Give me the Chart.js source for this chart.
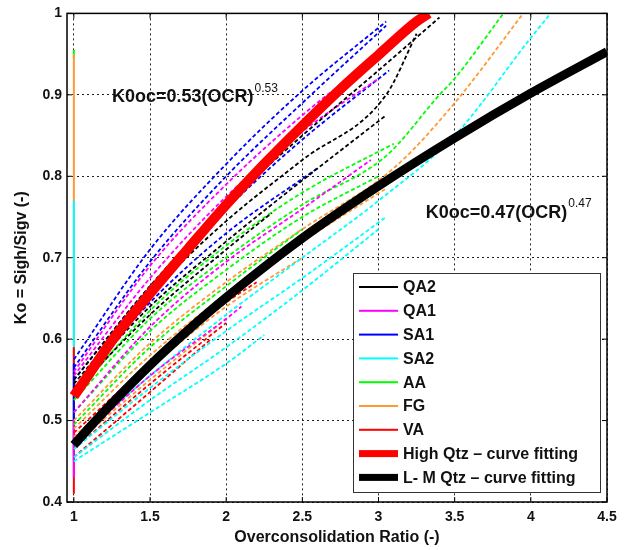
<!DOCTYPE html>
<html>
<head>
<meta charset="utf-8">
<script src="https://cdn.jsdelivr.net/npm/chart.js@4"></script>
<style>
  html, body { margin: 0; padding: 0; background: #fff; }
</style>
</head>
<body>
<canvas id="grafico" width="628" height="550"></canvas>
<script>
// tick labels
const xTicks = [1, 1.5, 2, 2.5, 3, 3.5, 4, 4.5];
const yTicks = [0.4, 0.5, 0.6, 0.7, 0.8, 0.9, 1];

// test curves, each one a list of [OCR, Ko]
const QA2 = [
  [[1, 0.55], [1.5, 0.665], [2, 0.765], [2.5, 0.85], [3, 0.93], [3.4, 0.995]],
  [[1, 0.545], [1.5, 0.655], [2, 0.745], [2.5, 0.82], [3.05, 0.9], [3.25, 0.975]],
  [[1, 0.54], [1.5, 0.64], [2, 0.72], [2.5, 0.795], [3.05, 0.875]],
  [[1, 0.535], [1.5, 0.63], [2, 0.71], [2.3, 0.755]]
];
const QA1 = [
  [[1, 0.56], [1.5, 0.69], [2, 0.79], [2.5, 0.875], [3, 0.95], [3.25, 0.995]],
  [[1, 0.555], [1.5, 0.675], [2, 0.775], [2.5, 0.855], [3, 0.92]],
  [[1, 0.51], [1.5, 0.615], [2, 0.695], [2.5, 0.76], [2.95, 0.82]],
  [[1, 0.47], [1.5, 0.555], [2, 0.625], [2.1, 0.64]]
];
const SA1 = [
  [[1, 0.575], [1.5, 0.71], [2, 0.815], [2.5, 0.905], [3.05, 0.99]],
  [[1, 0.565], [1.5, 0.695], [2, 0.8], [2.5, 0.89], [3.05, 0.985]],
  [[1, 0.55], [1.5, 0.665], [2, 0.76], [2.5, 0.845], [3.07, 0.93]],
  [[1, 0.54], [1.5, 0.645], [2, 0.73], [2.6, 0.81]]
];
const SA2 = [
  [[1, 0.475], [1.5, 0.555], [2, 0.63], [2.5, 0.7], [3, 0.77], [3.5, 0.85], [4, 0.97], [4.13, 1.0]],
  [[1, 0.465], [1.5, 0.54], [2, 0.61], [2.5, 0.675], [3.05, 0.75]],
  [[1, 0.455], [1.5, 0.525], [2, 0.59], [2.5, 0.66], [3, 0.735]],
  [[1, 0.45], [1.5, 0.51], [2, 0.57], [2.25, 0.605]]
];
const AA = [
  [[1, 0.53], [1.5, 0.635], [2, 0.715], [2.5, 0.78], [3.1, 0.84]],
  [[1, 0.525], [1.5, 0.625], [2, 0.7], [2.5, 0.765], [3.05, 0.825], [3.4, 0.9], [3.5, 0.92], [3.82, 1.0]],
  [[1, 0.51], [1.5, 0.61], [2, 0.685], [2.5, 0.75], [3, 0.8]],
  [[1, 0.495], [1.5, 0.59], [2, 0.665], [2.5, 0.735]]
];
const FG = [
  [[1, 0.5], [1.5, 0.595], [2, 0.67], [2.5, 0.735], [3.1, 0.81], [3.5, 0.89], [3.95, 1.0]],
  [[1, 0.49], [1.5, 0.58], [2, 0.655], [2.5, 0.72], [3.05, 0.785]],
  [[1, 0.48], [1.5, 0.565], [2, 0.64], [2.5, 0.7]],
  [[1, 0.47], [1.5, 0.55], [2, 0.625]]
];
const VA = [
  [[1, 0.485], [1.5, 0.57], [2, 0.645], [2.2, 0.67]],
  [[1, 0.465], [1.5, 0.545], [2, 0.62]],
  [[1, 0.455], [1.5, 0.535], [1.9, 0.6]]
];

// loading branches at OCR = 1 (Ko from, Ko to)
const loadQA1 = [0.43, 0.5];
const loadSA1 = [0.45, 0.57];
const loadVA = [0.41, 0.59];
const loadSA2 = [0.46, 0.77];
const loadFG = [0.5, 0.95];
const loadAA = [0.945, 0.955];

// fitted curves
const highQtzOCR = [1, 1.1, 1.25, 1.5, 1.75, 2, 2.25, 2.5, 2.75, 3, 3.25, 3.33];
const highQtzKo = [0.53, 0.557, 0.598, 0.656, 0.711, 0.765, 0.815, 0.862, 0.907, 0.949, 0.99, 1.0];
const lmQtzOCR = [1, 1.1, 1.25, 1.5, 1.75, 2, 2.5, 3, 3.5, 4, 4.5];
const lmQtzKo = [0.47, 0.491, 0.521, 0.568, 0.611, 0.651, 0.724, 0.788, 0.847, 0.902, 0.953];

// legend
const legendNames = ["QA2", "QA1", "SA1", "SA2", "AA", "FG", "VA", "High Qtz \u2013 curve fitting", "L- M Qtz \u2013 curve fitting"];
const legendColors = ["#000000", "#ff00ff", "#0000ff", "#00ffff", "#00ff00", "#ff9933", "#ff0000", "#ff0000", "#000000"];

// equation labels
const eqText = ["K0oc=0.53(OCR)", "K0oc=0.47(OCR)"];
const eqExp = ["0.53", "0.47"];
const eqPos = [[1.25, 0.897], [3.31, 0.755]];

const FONT = "'Liberation Sans', Arial, sans-serif";

const datasets = [];

function addLine(pts, color, width, dash, order) {
  datasets.push({
    data: pts.map(p => ({ x: p[0], y: p[1] })),
    borderColor: color,
    borderWidth: width,
    borderDash: dash,
    pointRadius: 0,
    showLine: true,
    cubicInterpolationMode: "monotone",
    fill: false,
    order: order
  });
}

addLine(highQtzOCR.map((v, i) => [v, highQtzKo[i]]), "#ff0000", 10, [], 0);
addLine(lmQtzOCR.map((v, i) => [v, lmQtzKo[i]]), "#000000", 9, [], 0);

const grupos = [
  [QA2, legendColors[0]], [QA1, legendColors[1]], [SA1, legendColors[2]], [SA2, legendColors[3]],
  [AA, legendColors[4]], [FG, legendColors[5]], [VA, legendColors[6]]
];
grupos.forEach(([linhas, cor]) => {
  linhas.forEach(l => addLine(l, cor, 1.8, [4, 2.5], 1));
});

[[loadQA1, "#ff00ff"], [loadSA1, "#0000ff"], [loadVA, "#ff0000"],
 [loadSA2, "#00ffff"], [loadFG, "#ff9933"], [loadAA, "#00ff00"]].forEach(([k, cor]) => {
  addLine([[1, k[0]], [1, k[1]]], cor, 2, [], 1);
});

const moldura = {
  id: "moldura",
  afterDatasetsDraw(chart) {
    const { ctx, chartArea: a, scales } = chart;
    ctx.save();
    ctx.strokeStyle = "#000";
    ctx.lineWidth = 1.5;
    ctx.strokeRect(a.left, a.top, a.right - a.left, a.bottom - a.top);
    ctx.lineWidth = 1;
    ctx.beginPath();
    xTicks.forEach(v => {
      const px = scales.x.getPixelForValue(v);
      ctx.moveTo(px, a.bottom); ctx.lineTo(px, a.bottom - 5);
      ctx.moveTo(px, a.top); ctx.lineTo(px, a.top + 5);
    });
    yTicks.forEach(v => {
      const py = scales.y.getPixelForValue(v);
      ctx.moveTo(a.left, py); ctx.lineTo(a.left + 5, py);
      ctx.moveTo(a.right, py); ctx.lineTo(a.right - 5, py);
    });
    ctx.stroke();

    // equations
    ctx.fillStyle = "#111";
    ctx.textBaseline = "middle";
    eqText.forEach((t, i) => {
      const px = scales.x.getPixelForValue(eqPos[i][0]);
      const py = scales.y.getPixelForValue(eqPos[i][1]);
      ctx.font = "bold 18px " + FONT;
      ctx.fillText(t, px, py);
      const w = ctx.measureText(t).width;
      ctx.font = "12px " + FONT;
      ctx.fillText(eqExp[i], px + w + 1, py - 9);
    });

    // legend box
    const lx = 353, ly = 273, lw = 247, lh = 219;
    ctx.fillStyle = "#fff";
    ctx.fillRect(lx, ly, lw, lh);
    ctx.strokeStyle = "#333";
    ctx.lineWidth = 1;
    ctx.strokeRect(lx + 0.5, ly + 0.5, lw, lh);
    ctx.font = "bold 16px " + FONT;
    ctx.textBaseline = "middle";
    legendNames.forEach((n, i) => {
      const y = ly + 14 + i * 23.8;
      const grosso = i >= 7;
      ctx.fillStyle = legendColors[i];
      if (grosso) ctx.fillRect(359, y - 3.5, 39, 7);
      else ctx.fillRect(359, y - 1, 39, 2);
      ctx.fillStyle = "#111";
      ctx.fillText(n, 403, y + 1);
    });
    ctx.restore();
  }
};

new Chart(document.getElementById("grafico"), {
  type: "scatter",
  data: { datasets },
  options: {
    responsive: false,
    animation: false,
    layout: { padding: { left: 0, top: 13, right: 21, bottom: 0 } },
    plugins: {
      legend: { display: false },
      tooltip: { enabled: false }
    },
    scales: {
      x: {
        type: "linear",
        min: 0.955,
        max: 4.5,
        afterBuildTicks: s => { s.ticks = xTicks.map(v => ({ value: v })); },
        afterFit: s => { s.height = 48; },
        grid: { color: "#222", lineWidth: 1, drawTicks: false },
        border: { display: false, dash: [2, 3] },
        ticks: {
          padding: 7,
          color: "#111",
          font: { family: FONT, size: 14, weight: "bold" },
          maxRotation: 0,
          callback: v => String(v)
        },
        title: {
          display: true,
          text: "Overconsolidation Ratio (-)",
          color: "#111",
          font: { family: FONT, size: 16, weight: "bold" },
          padding: { top: 0, bottom: 3 }
        }
      },
      y: {
        type: "linear",
        min: 0.4,
        max: 1,
        afterBuildTicks: s => { s.ticks = yTicks.map(v => ({ value: v })); },
        afterFit: s => { s.width = 67; },
        grid: { color: "#222", lineWidth: 1, drawTicks: false },
        border: { display: false, dash: [2, 3] },
        ticks: {
          padding: 5,
          color: "#111",
          font: { family: FONT, size: 14, weight: "bold" },
          callback: v => String(v)
        },
        title: {
          display: true,
          text: "Ko = Sigh/Sigv (-)",
          color: "#111",
          font: { family: FONT, size: 16, weight: "bold" },
          padding: { top: 12, bottom: 0 }
        }
      }
    }
  },
  plugins: [moldura]
});
</script>
</body>
</html>
